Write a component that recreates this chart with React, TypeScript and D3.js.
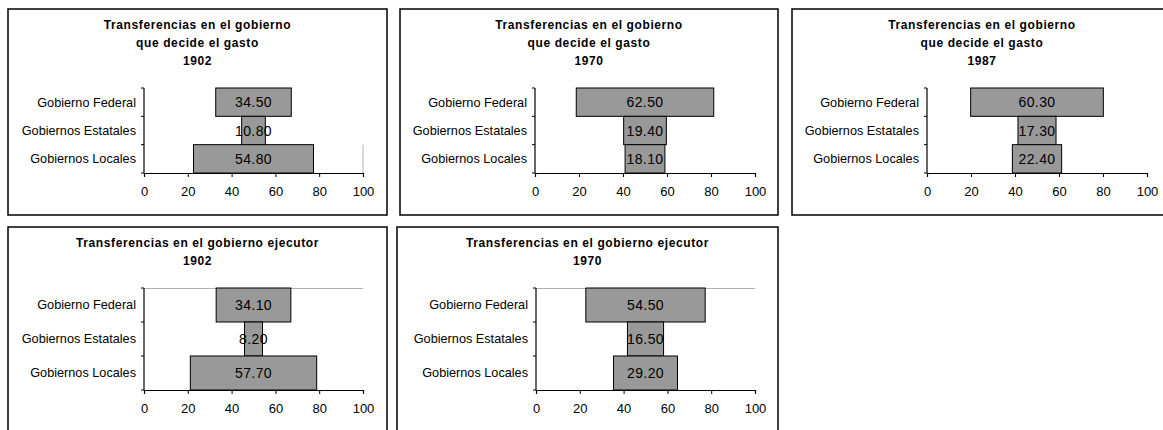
import React, { useEffect, useRef } from "react";
import * as d3 from "d3";

const categories = ["Gobierno Federal", "Gobiernos Estatales", "Gobiernos Locales"];
const xTicks = [0, 20, 40, 60, 80, 100];

const decide1902 = [34.5, 10.8, 54.8];
const decide1970 = [62.5, 19.4, 18.1];
const decide1987 = [60.3, 17.3, 22.4];
const ejecutor1902 = [34.1, 8.2, 57.7];
const ejecutor1970 = [54.5, 16.5, 29.2];

const titleDecide = ["Transferencias en el gobierno", "que decide el gasto"];
const titleEjecutor = ["Transferencias en el gobierno ejecutor"];

interface PanelDef {
  title: string[];
  year: string;
  values: number[];
  box: [number, number, number, number]; // x0, y0, x1, y1
  plot: [number, number, number, number]; // left, top, right, bottom
  edge?: "right" | "top";
}

const panels: PanelDef[] = [
  { title: titleDecide, year: "1902", values: decide1902, box: [8, 9, 387, 215], plot: [144, 88, 363, 173], edge: "right" },
  { title: titleDecide, year: "1970", values: decide1970, box: [400, 9, 778, 215], plot: [535, 88, 755, 173] },
  { title: titleDecide, year: "1987", values: decide1987, box: [792, 9, 1172, 215], plot: [927, 88, 1147, 173] },
  { title: titleEjecutor, year: "1902", values: ejecutor1902, box: [8, 227, 387, 440], plot: [144, 288, 363, 390], edge: "top" },
  { title: titleEjecutor, year: "1970", values: ejecutor1970, box: [397, 227, 778, 440], plot: [536, 288, 755, 390], edge: "top" },
];

const FONT = "Arial, 'Liberation Sans', sans-serif";

const App: React.FC = () => {
  const ref = useRef<SVGSVGElement>(null);

  useEffect(() => {
    if (!ref.current) return;
    const svg = d3.select(ref.current);
    svg.selectAll("*").remove();

    panels.forEach((p) => {
      const [bx0, by0, bx1, by1] = p.box;
      const [left, top, right, bottom] = p.plot;
      const g = svg.append("g");

      // Frame
      g.append("rect")
        .attr("x", bx0)
        .attr("y", by0)
        .attr("width", bx1 - bx0)
        .attr("height", by1 - by0)
        .attr("fill", "#fff")
        .attr("stroke", "#000")
        .attr("stroke-width", 1.5);

      // Title
      const lines = [...p.title, p.year];
      const cx = (bx0 + bx1) / 2;
      lines.forEach((t, i) => {
        g.append("text")
          .attr("x", cx)
          .attr("y", by0 + 16 + i * 18)
          .attr("dy", "0.35em")
          .attr("text-anchor", "middle")
          .style("font-family", FONT)
          .style("font-size", "12px")
          .style("font-weight", "bold")
          .style("letter-spacing", "0.6px")
          .text(t);
      });

      const x = d3.scaleLinear().domain([0, 100]).range([left, right]);
      const y = d3.scaleBand().domain(categories).range([top, bottom]).padding(0);

      // Plot area edge artifacts
      if (p.edge === "right") {
        g.append("line")
          .attr("x1", right).attr("x2", right)
          .attr("y1", y(categories[2])!).attr("y2", bottom)
          .attr("stroke", "#b0b0b0");
      } else if (p.edge === "top") {
        g.append("line")
          .attr("x1", left).attr("x2", right)
          .attr("y1", top + 0.5).attr("y2", top + 0.5)
          .attr("stroke", "#b0b0b0");
      }

      // Bars centred at 50
      categories.forEach((c, i) => {
        const v = p.values[i];
        const x0 = x(50 - v / 2);
        const x1 = x(50 + v / 2);
        g.append("rect")
          .attr("x", x0)
          .attr("y", y(c)!)
          .attr("width", x1 - x0)
          .attr("height", y.bandwidth())
          .attr("fill", "#999999")
          .attr("stroke", "#000")
          .attr("stroke-width", 1);
        g.append("text")
          .attr("x", x(50))
          .attr("y", y(c)! + y.bandwidth() / 2)
          .attr("dy", "0.36em")
          .attr("text-anchor", "middle")
          .style("font-family", FONT)
          .style("font-size", "14px")
          .style("letter-spacing", "0.4px")
          .text(v.toFixed(2));
      });

      // X axis
      const xa = g.append("g")
        .attr("transform", `translate(0,${bottom})`)
        .call(d3.axisBottom(x).tickValues(xTicks).tickSize(4).tickPadding(10));
      xa.select(".domain").attr("stroke", "#000").attr("stroke-width", 1.2);
      xa.selectAll(".tick line").attr("stroke", "#000");
      xa.selectAll("text")
        .style("font-family", FONT)
        .style("font-size", "13px")
        .attr("fill", "#000");

      // Y axis: ticks at band boundaries
      const ya = g.append("g");
      ya.append("line")
        .attr("x1", left).attr("x2", left)
        .attr("y1", top).attr("y2", bottom)
        .attr("stroke", "#000").attr("stroke-width", 1.2);
      const bounds = [...categories.map((c) => y(c)!), bottom];
      bounds.forEach((b) => {
        ya.append("line")
          .attr("x1", left - 3).attr("x2", left)
          .attr("y1", b).attr("y2", b)
          .attr("stroke", "#000");
      });
      categories.forEach((c) => {
        ya.append("text")
          .attr("x", left - 8)
          .attr("y", y(c)! + y.bandwidth() / 2)
          .attr("dy", "0.35em")
          .attr("text-anchor", "end")
          .style("font-family", FONT)
          .style("font-size", "12.7px")
          .text(c);
      });
    });
  }, []);

  return (
    <svg
      ref={ref}
      width={1163}
      height={430}
      style={{ position: "absolute", left: 0, top: 0, background: "#fff" }}
    />
  );
};

export default App;
